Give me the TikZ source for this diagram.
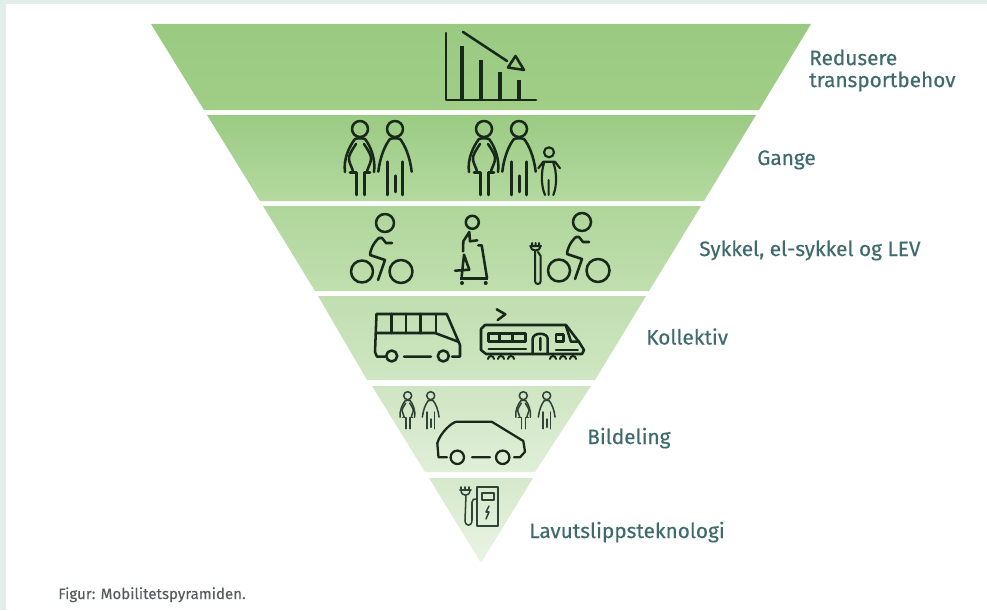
\documentclass[tikz,border=0pt]{standalone}
\usepackage{fontspec}
\setmainfont{Fira Sans}
\newfontfamily\labelfont[FakeBold=0.35]{Fira Sans}
\newfontfamily\capfont[FakeBold=0.1]{Fira Sans}
\definecolor{bgteal}{HTML}{E1EFEB}
\definecolor{ink}{HTML}{18281A}
\definecolor{inksoft}{HTML}{2E4436}
\definecolor{labelc}{HTML}{3F6B6E}
\definecolor{captionc}{HTML}{555B5E}
\definecolor{ba}{HTML}{9ACA81}\definecolor{bb}{HTML}{A0CE87}
\definecolor{bc}{HTML}{9BCB83}\definecolor{bd}{HTML}{B4D9A0}
\definecolor{be}{HTML}{AFD69B}\definecolor{bf}{HTML}{C0DFAE}
\definecolor{bg}{HTML}{C0DEB0}\definecolor{bh}{HTML}{CFE6C2}
\definecolor{bi}{HTML}{CFE5C2}\definecolor{bj}{HTML}{E0EFD8}
\definecolor{bk}{HTML}{D5E9CB}\definecolor{bl}{HTML}{EAF4E5}
\tikzset{
  x=0.75pt,y=-0.75pt,
  icon/.style={draw=ink,line width=1.9pt,line cap=round,line join=round},
  smallicon/.style={draw=inksoft,line width=1.15pt,line cap=round,line join=round},
  labeltext/.style={text=labelc,font=\labelfont\fontsize{15.6}{16.5}\selectfont,anchor=base west,align=left,inner sep=0pt},
  pics/woman/.style={code={
    \draw[pic actions] (0,0) circle (8);
    \draw[pic actions] (-15,43) .. controls (-17,30) and (-10,16) .. (-5,10) .. controls (-2,9) and (2,9) .. (5,10) .. controls (10,16) and (16,30) .. (14,43);
    \draw[pic actions] (-4,15) .. controls (-8,21) and (-12,27) .. (-11,31) .. controls (-10,36) and (-7,40) .. (-7,43.3);
    \draw[pic actions] (4,15) .. controls (8,21) and (12,27) .. (11,31) .. controls (10,36) and (7,40) .. (7,43.3);
    \draw[pic actions] (-10,43.3) -- (-3.3,43.3) -- (-3.3,66) (10,43.3) -- (4.3,43.3) -- (4.3,66);
  }},
  pics/man/.style={code={
    \draw[pic actions] (0,0) circle (8);
    \draw[pic actions] (-16.7,42.7) .. controls (-15,28) and (-10,16) .. (-5,10) .. controls (-2,9) and (2,9) .. (5,10) .. controls (10,16) and (15,28) .. (16.7,42.7);
    \draw[pic actions] (-7.3,32.7) -- (-7.3,66) (7.7,32.7) -- (7.7,66) (0.7,46.7) -- (0.7,63);
  }},
  pics/cyclist/.style={code={
    \draw[pic actions] (0,0) circle (9);
    \draw[pic actions] (7,20) -- (1,20) -- (-3,15) -- (-6,15) .. controls (-12,20) and (-15,28) .. (-15,32) -- (0,37) -- (-7,57);
    \draw[pic actions] (-23,48.5) circle (11);
    \draw[pic actions] (16,48.5) circle (11.5);
  }},
}
\begin{document}
\begin{tikzpicture}
\useasboundingbox (0,0) rectangle (987,610);
\fill[bgteal] (0,0) rectangle (987,610);
\fill[white] (6,4) rectangle (987,610);
% bands
\shade[top color=ba,bottom color=bb] (151,24) -- (811,24) -- (759,110) -- (204,110) -- cycle;
\shade[top color=bc,bottom color=bd] (207,115) -- (756,115) -- (704,201) -- (260,201) -- cycle;
\shade[top color=be,bottom color=bf] (263,206) -- (701,206) -- (649,291) -- (315,291) -- cycle;
\shade[top color=bg,bottom color=bh] (318,296) -- (646,296) -- (595,380) -- (367,380) -- cycle;
\shade[top color=bi,bottom color=bj] (372,386) -- (591,386) -- (535,472) -- (425,472) -- cycle;
\shade[top color=bk,bottom color=bl] (429,478) -- (533,478) -- (481,563) -- cycle;
% chart
\draw[icon] (446,33) -- (446,100) -- (536,100);
\draw[icon,line width=2.6pt,line cap=butt] (462,100) -- (462,46) (481,100) -- (481,60) (500,100) -- (500,72) (519,100) -- (519,80);
\draw[icon] (463,32) -- (507,61);
\draw[icon] (515.5,56) -- (508,67.5) -- (524,70) -- cycle;
% people
\pic[icon] at (360,129) {woman};
\pic[icon] at (395,129) {man};
\pic[icon] at (484,129) {woman};
\pic[icon] at (519,129) {man};
\draw[icon,line width=1.6pt] (549,152.3) circle (5)
  (538.3,168.3) -- (543.3,161.7) -- (555,161.7) -- (560,168.3)
  (544,163) .. controls (541,172) and (541,186) .. (545,195)
  (553.3,163) .. controls (557,172) and (557,186) .. (553.3,195)
  (548.6,180) -- (548.6,195);
% cyclists
\pic[icon] at (385,223) {cyclist};
\pic[icon] at (582,222) {cyclist};
% plug next to second cyclist
\draw[icon,line width=1.5pt] (530,246) -- (541,246) (532,243) -- (532,246) (535.5,243) -- (535.5,246) (539,243) -- (539,246)
  (530.5,246) .. controls (530,252) and (541,252) .. (540.5,246)
  (535,251) -- (535,281) .. controls (535,285) and (540.7,285) .. (540.7,281) -- (540.7,256) -- (538,252);
% walker
\draw[icon] (472.3,222.3) circle (6.5);
\draw[icon] (463,251.3) -- (463.3,241.3) -- (469.3,232) -- (470,241.3) -- (477.3,240.3);
\draw[icon] (461.7,276.3) -- (464,254.7) -- (469.3,269.7) -- (455,270.7);
\draw[icon] (478.3,245.3) -- (481.7,245.3) -- (487,278);
\draw[icon,line width=2.6pt,line cap=butt] (460,278.7) -- (488.3,278.7);
\fill[ink] (462,283) circle (2) (485.7,283) circle (2);
% bus
\draw[icon] (385,356.7) -- (377,356.7) -- (375,352) -- (376.5,314) -- (446.7,314) -- (460,345) -- (460,356.7) -- (452,356.7);
\draw[icon] (377,333) -- (435,333) -- (458.3,341.7);
\draw[icon] (391.7,314) -- (391.7,333) (406,314) -- (406,333) (420.7,314) -- (420.7,333) (436,314) -- (436,333);
\draw[icon] (391.7,356) circle (5.5) (443.3,356) circle (5.5) (404,356.7) -- (431,356.7);
% train
\draw[icon] (496.7,309.3) -- (505.3,314.3) -- (497.7,320);
\draw[icon] (485,325) -- (566,325) -- (579,342) -- (584,350) -- (582,354) -- (486,354) -- (481,350) -- (481,329) -- cycle;
\draw[icon] (488.7,333.3) rectangle (525.3,341.7) (499.3,333.3) -- (499.3,341.7) (512.7,333.3) -- (512.7,341.7);
\draw[icon] (532.7,354) -- (532.7,339) .. controls (532.7,332) and (547.7,332) .. (547.7,339) -- (547.7,354) (540.3,338) -- (540.3,350);
\draw[icon] (556,334.3) rectangle (563.3,341.7);
\draw[icon] (488.7,349) -- (526,349) (556,350) -- (577.7,350);
\draw[icon] (566,326) -- (571,341.7) -- (579,341.7);
\draw[icon,line width=1.5pt] (488,359) arc (180:360:3) (498,359) arc (180:360:3) (508,359) arc (180:360:3)
  (550,359) arc (180:360:3) (560,359) arc (180:360:3) (570,359) arc (180:360:3);
% shared car
\pic[smallicon,scale=.5] at (407.7,395.7) {woman};
\pic[smallicon,scale=.5] at (430.7,395.7) {man};
\pic[smallicon,scale=.5] at (523.3,395.7) {woman};
\pic[smallicon,scale=.5] at (546.7,395.7) {man};
\draw[icon,line width=1.7pt] (447,457.3) -- (438.5,457.3) -- (437.3,443.3) .. controls (440,433) and (452,422) .. (456.7,421.7) -- (491.7,421.7) -- (523.3,441) -- (525,451.7) -- (520,457.3) -- (514,457.3);
\draw[icon,line width=1.7pt] (457.3,457.3) circle (6.7) (502.7,457.3) circle (6.7) (472,457.3) -- (490,457.3);
% charger
\draw[smallicon] (477,487) -- (498,487) -- (498,526) -- (477,526) -- cycle;
\draw[smallicon] (482,493) rectangle (494,500);
\draw[smallicon] (489,506) -- (486,512) -- (489,512) -- (486,519);
\draw[smallicon] (460,490) -- (471,490) (461,487) -- (461,490) (465,487) -- (465,490) (469,487) -- (469,490);
\draw[smallicon] (461,490) .. controls (461,497) and (470,497) .. (470,490) (466,495) -- (465,520) .. controls (465,527) and (472,527) .. (472,520) -- (472,502) .. controls (472,499) and (474,499) .. (477,499);
% labels
\node[labeltext,anchor=west] (l1) at (809,70.5) {Redusere\\transportbehov};
\node[labeltext] (l2) at (757,165) {Gange};
\node[labeltext] (l3) at (699,256) {Sykkel, el-sykkel og LEV};
\node[labeltext] (l4) at (646,344.5) {Kollektiv};
\node[labeltext] (l5) at (587,444) {Bildeling};
\node[labeltext] (l6) at (529,538) {Lavutslippsteknologi};
\node[text=captionc,font=\capfont\fontsize{11.3}{13}\selectfont,anchor=base west,inner sep=0pt] (cap) at (58,599) {Figur: Mobilitetspyramiden.};
\end{tikzpicture}
\end{document}
